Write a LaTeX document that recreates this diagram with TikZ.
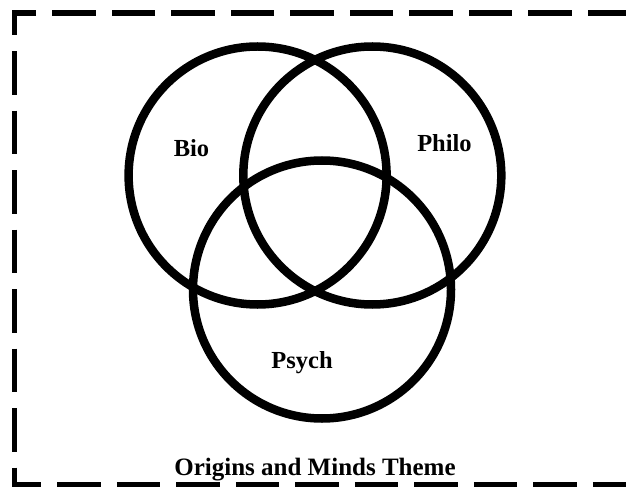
\documentclass[tikz,border=0pt]{standalone}
\usepackage{fontspec}
\setmainfont{Liberation Serif}
\begin{document}
\begin{tikzpicture}[x=1pt,y=-1pt,
  ring/.style={circle, draw=black, line width=8.5pt, minimum size=258pt, inner sep=0pt},
  lbl/.style={anchor=base, inner sep=0pt, font=\fontsize{24.5}{29}\selectfont\bfseries},
  ttl/.style={anchor=base, inner sep=0pt, font=\fontsize{25}{30}\selectfont\bfseries},
  frame/.style={draw=black, line width=5.5pt, dash pattern=on 43.5pt off 16pt}]
  \useasboundingbox (0,0) rectangle (626,489);
  \clip (0,0) rectangle (626,489);
  \coordinate (tr) at (631,13);
  \coordinate (tl) at (14.7,13);
  \coordinate (bl) at (14.7,484.5);
  \coordinate (br) at (640,484.5);
  \draw[frame] (tr) -- (tl) -- (bl) -- (br);
  \node[ring] (bio) at (257.6,175.5) {};
  \node[ring] (philo) at (372.3,175.5) {};
  \node[ring] (psych) at (322,289.5) {};
  \node[lbl] (biot) at (191.5,157) {Bio};
  \node[lbl] (philot) at (444.5,151.7) {Philo};
  \node[lbl] (psycht) at (302,368) {Psych};
  \node[ttl] (title) at (315,475) {Origins and Minds Theme};
\end{tikzpicture}
\end{document}
